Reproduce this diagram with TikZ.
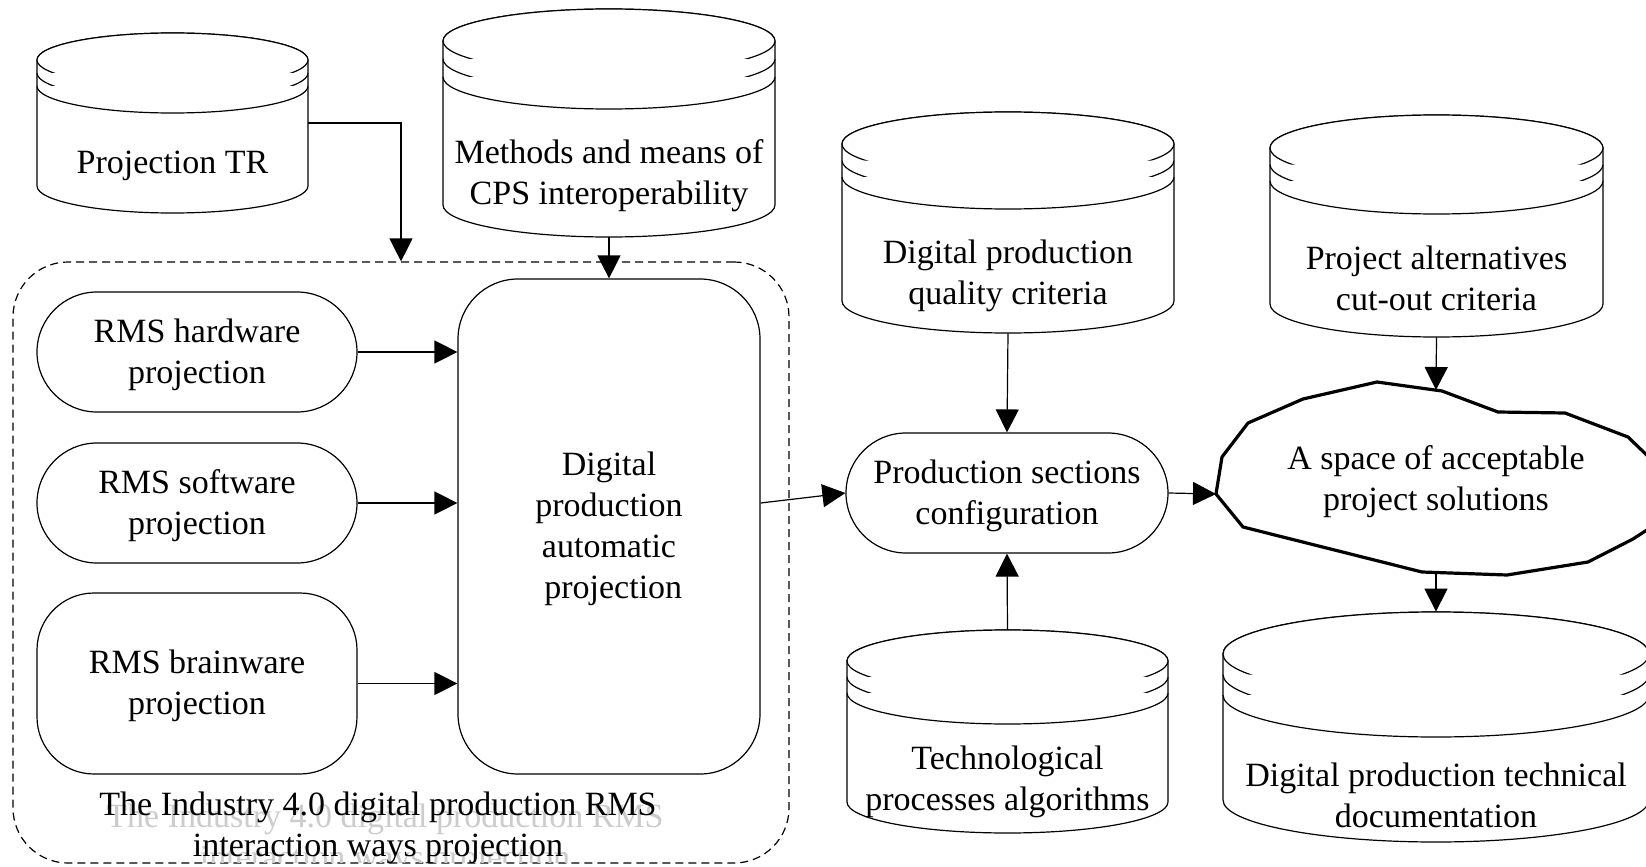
\documentclass[tikz,border=0pt]{standalone}
\usepackage{fontspec}
\setmainfont{Liberation Serif}
\usetikzlibrary{arrows.meta}

% Striped database cylinder:
% #1 name, #2 left x, #3 right x, #4 top y, #5 bottom y, #6 ellipse half-height,
% #7 stripe gap, #8 label y, #9 label
\newcommand{\dbcyl}[9]{%
  \pgfmathsetmacro\cylX{(#2+#3)/2}%
  \pgfmathsetmacro\cylR{(#3-#2)/2}%
  \pgfmathsetmacro\cylT{#4+#6}%
  \pgfmathsetmacro\cylB{#5-#6}%
  \pgfmathsetmacro\cylM{(#4+#5)/2}%
  \pgfmathsetmacro\cylW{(#3-#2)*0.5}%
  \pgfmathsetmacro\cylH{(#5-#4)*0.5}%
  \pgfmathsetmacro\cylS{\cylT+#7}%
  \pgfmathsetmacro\cylSS{\cylT+2*#7}%
  \filldraw[cylline] (#2,\cylT) -- (#2,\cylB)
     arc[start angle=180,end angle=0,x radius=\cylR,y radius=#6]
     -- (#3,\cylT)
     arc[start angle=0,end angle=-180,x radius=\cylR,y radius=#6] -- cycle;
  \draw[cylline] (\cylX,\cylT) ellipse[x radius=\cylR,y radius=#6];
  \draw[cylline] (#2,\cylS) arc[start angle=180,end angle=0,x radius=\cylR,y radius=#6];
  \draw[cylline] (#2,\cylSS) arc[start angle=180,end angle=0,x radius=\cylR,y radius=#6];
  \node[inner sep=0,minimum width=\cylW pt,minimum height=\cylH pt] (#1) at (\cylX,\cylM) {};
  \node[lbl] (#1t) at (\cylX,#8) {#9};
}
% taller first line, so that text sits at the visual middle of a box
\newcommand{\firstln}{\rule{0pt}{14.6pt}}

\begin{document}
\begin{tikzpicture}[x=0.5pt,y=-0.5pt,
  lbl/.style={font=\fontsize{17}{20.5}\selectfont, align=center, inner sep=0pt},
  cylline/.style={line width=0.6pt, fill=white},
  pill/.style={lbl, draw, line width=0.6pt, fill=white, rounded corners=30pt,
               minimum width=160pt, minimum height=60pt},
  arr/.style={line width=0.6pt, -{Triangle[length=11.5pt,width=11.5pt]}}]

\useasboundingbox (0,0) rectangle (1646,867);
\clip (0,0) rectangle (1646,867);
\fill[white] (0,0) rectangle (1646,867);

% upper sources
\dbcyl{proj}{37}{308}{33}{213}{27}{13}{166}{Projection TR}
\dbcyl{meth}{443}{775}{9}{237}{32}{18}{176}{Methods and means of\\CPS interoperability}

% dashed group with its caption
\node[draw, dashed, dash pattern=on 4pt off 2.5pt, line width=0.6pt, rounded corners=27.5pt,
      minimum width=388pt, minimum height=300.5pt, inner sep=0pt] (grp) at (401,562.5) {};
\begin{scope}
  \clip (40,780) rectangle (760,862);
  \node[lbl, text=black!20] (capghost) at (385,839.5) {The Industry 4.0 digital production RMS\\interaction ways projection};
\end{scope}
\node[lbl] (cap) at (378,827.5) {The Industry 4.0 digital production RMS\\interaction ways projection};

% RMS projections
\node[pill] (rhw) at (197,352) {\firstln RMS hardware\\projection};
\node[pill] (rsw) at (197,503) {\firstln RMS software\\projection};
\node[pill, minimum height=90.5pt, rounded corners=28.5pt] (rbw) at (197,683.5) {\firstln RMS brainware\\projection};

% automatic projection block
\node[lbl, draw, line width=0.6pt, fill=white, rounded corners=30pt,
      minimum width=151pt, minimum height=247.5pt] (big) at (609,526.5)
      {\firstln Digital\\production\\automatic\\\hspace*{0.25em}projection};

% right part
\dbcyl{qual}{842}{1174}{112}{333}{32}{16.5}{275.5}{Digital production\\quality criteria}
\dbcyl{alt}{1270}{1603}{115}{337}{33}{16.5}{278}{Project alternatives\\cut-out criteria}
\dbcyl{tech}{847}{1168}{630}{833}{31}{16}{782}{Technological\\processes algorithms}
\dbcyl{doc}{1223}{1649}{612}{842}{42}{20.5}{795.5}{Digital production technical\\documentation}

\node[pill, minimum width=161pt] (prod) at (1007,493) {\firstln Production sections\\configuration};

% solution space outline
\filldraw[line width=1.6pt, fill=white, line join=round]
  (1216,494) -- (1222,457) -- (1248,423) -- (1303,399) -- (1377,382) -- (1442,391)
  -- (1498,412) -- (1565,413) -- (1628,437) -- (1654,462) -- (1664,495) -- (1650,528)
  -- (1633,539) -- (1588,562) -- (1507,575) -- (1422,572) -- (1243,527) -- cycle;
\node[lbl] (space) at (1436,482) {A space of acceptable\\project solutions};
\coordinate (spaceW) at (1216,494);
\coordinate (spaceN) at (1436,390);
\coordinate (spaceS) at (1436,573);

% connectors
\draw[arr] (proj.east) -| (grp.north);
\draw[arr] (meth.south) -- (big.north);
\draw[arr] (rhw.east) -- (rhw.east -| big.west);
\draw[arr] (rsw.east) -- (rsw.east -| big.west);
\draw[arr] (rbw.east) -- (rbw.east -| big.west);
\draw[arr] (big.east |- rsw.east) -- (prod.west);
\draw[arr] (qual.south) -- (prod.north);
\draw[arr] (tech.north) -- (prod.south);
\draw[arr] (prod.east) -- (spaceW);
\draw[arr] (alt.south) -- (spaceN);
\draw[arr] (spaceS) -- (doc.north);
\end{tikzpicture}
\end{document}
